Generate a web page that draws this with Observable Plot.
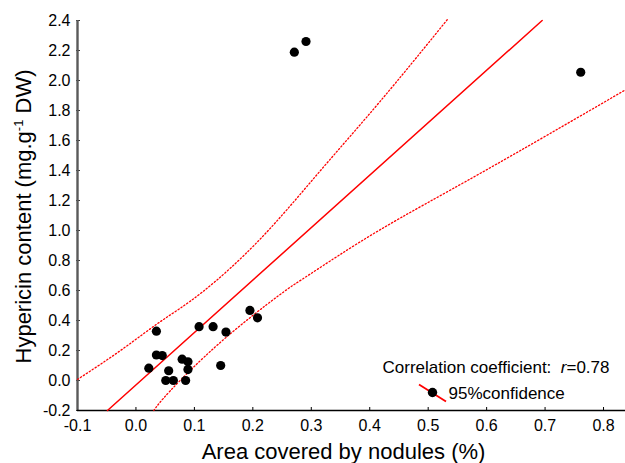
<!DOCTYPE html>
<html>
<head>
<meta charset="utf-8">
<script src="https://cdn.jsdelivr.net/npm/d3@7"></script>
<script src="https://cdn.jsdelivr.net/npm/@observablehq/plot@0.6"></script>
<style>
  html, body { margin: 0; padding: 0; background: #fff; }
</style>
</head>
<body>
<div id="chart"></div>
<script>
// ---- data ----
const xTicks = [-0.1, 0.0, 0.1, 0.2, 0.3, 0.4, 0.5, 0.6, 0.7, 0.8];
const yTicks = [-0.2, 0.0, 0.2, 0.4, 0.6, 0.8, 1.0, 1.2, 1.4, 1.6, 1.8, 2.0, 2.2, 2.4];

const nodulesArea = [0.022, 0.035, 0.035, 0.045, 0.051, 0.056, 0.064, 0.079, 0.085, 0.089,
                     0.089, 0.108, 0.132, 0.145, 0.154, 0.195, 0.208, 0.271, 0.291, 0.761];
const hypericin   = [0.082, 0.329, 0.170, 0.166, 0.000, 0.065, 0.000, 0.142, 0.000, 0.125,
                     0.073, 0.359, 0.359, 0.100, 0.323, 0.467, 0.418, 2.189, 2.260, 2.055];

const fitX = [-0.0487, 0.695];
const fitY = [-0.2, 2.4];

const upperX = [-0.100, -0.0264, 0.042, 0.1134, 0.2131, 0.3158, 0.4185, 0.5326];
const upperY = [0.007, 0.200, 0.393, 0.589, 0.945, 1.400, 1.864, 2.405];

const lowerX = [0.0306, 0.0591, 0.1447, 0.2445, 0.2987, 0.4156, 0.5896, 0.8377];
const lowerY = [-0.200, -0.067, 0.255, 0.567, 0.711, 1.000, 1.382, 1.938];

const xTitle = "Area covered by nodules (%)";
const yTitle = "Hypericin content (mg.g-1 DW)";
const corrText = "Correlation coefficient:  r=0.78";
const legendText = "95%confidence";

// ---- tables ----
const points = nodulesArea.map((x, i) => ({x, y: hypericin[i]}));
const fit = fitX.map((x, i) => ({x, y: fitY[i]}));
const upper = upperX.map((x, i) => ({x, y: upperY[i]}));
const lower = lowerX.map((x, i) => ({x, y: lowerY[i]}));

const RED = "#ff0000";
const fmt = d => d.toFixed(1);
const slash = {draw(ctx) { ctx.moveTo(-13.5, -8.5); ctx.lineTo(13.5, 8.5); }};

const svg = Plot.plot({
  width: 625,
  height: 463,
  marginLeft: 77,
  marginRight: 0,
  marginTop: 20,
  marginBottom: 53,
  style: {fontFamily: "'Liberation Sans', Arial, sans-serif", fontSize: "16px", color: "#000", background: "#fff"},
  x: {domain: [-0.1, 0.8376]},
  y: {domain: [-0.2, 2.4]},
  marks: [
    // axis labels
    Plot.axisX({ticks: xTicks, tickSize: 0, tickPadding: 9, tickFormat: fmt, label: null, fill: "#000"}),
    Plot.axisY({ticks: yTicks, tickSize: 0, tickPadding: 7, tickFormat: fmt, label: null, fill: "#000"}),
    // inward tick marks
    Plot.axisX({ticks: xTicks, tickSize: 3, dy: -3, tickFormat: () => "", label: null, stroke: "#000"}),
    Plot.axisY({ticks: yTicks, tickSize: 4, dx: 3, tickFormat: () => "", label: null, stroke: "#333"}),
    // axis lines
    Plot.ruleX([-0.1], {stroke: "#5a5a5a", strokeWidth: 2.4}),
    Plot.ruleY([-0.2], {stroke: "#000", strokeWidth: 1.6}),
    // regression + confidence bounds
    Plot.line(upper, {x: "x", y: "y", stroke: RED, strokeWidth: 1.3, strokeDasharray: "1.3,2.2", curve: "natural"}),
    Plot.line(lower, {x: "x", y: "y", stroke: RED, strokeWidth: 1.3, strokeDasharray: "1.3,2.2", curve: "natural"}),
    Plot.line(fit, {x: "x", y: "y", stroke: RED, strokeWidth: 1.5}),
    // data
    Plot.dot(points, {x: "x", y: "y", r: 4.6, fill: "#000", stroke: "none"}),
    // titles
    Plot.text([xTitle], {text: d => d, frameAnchor: "bottom", dx: -8, dy: 41, fontSize: 22, lineAnchor: "middle", fill: "#000"}),
    Plot.text([yTitle], {text: d => d, frameAnchor: "left", rotate: -90, dx: -54, dy: 1, fontSize: 22, lineAnchor: "middle", textAnchor: "middle", fill: "#000"}),
    // annotation + legend
    Plot.text([corrText], {text: d => d, frameAnchor: "bottom-right", dx: -243, dy: -42.5, fontSize: 17, textAnchor: "start", lineAnchor: "middle", fill: "#000"}),
    Plot.dot([0], {frameAnchor: "bottom-right", dx: -193, dy: -17.5, symbol: slash, stroke: RED, strokeWidth: 1.8, fill: "none"}),
    Plot.dot([0], {frameAnchor: "bottom-right", dx: -193, dy: -18, r: 4.7, fill: "#000", stroke: "none"}),
    Plot.text([legendText], {text: d => d, frameAnchor: "bottom-right", dx: -177, dy: -17.4, fontSize: 17, textAnchor: "start", lineAnchor: "middle", fill: "#000"})
  ]
});

function findText(content) {
  return d3.select(svg).selectAll("text").filter(function () { return this.textContent === content; });
}
// superscript in the y title
const yt = findText(yTitle);
if (!yt.empty()) {
  yt.text(null);
  yt.append("tspan").text("Hypericin content (mg.g");
  yt.append("tspan").attr("dy", -8).attr("font-size", 13).text("-1");
  yt.append("tspan").attr("dy", 8).text("\u00a0DW)");
}
// italic r in the correlation note
const ct = findText(corrText);
if (!ct.empty()) {
  ct.text(null);
  ct.append("tspan").text("Correlation coefficient:\u00a0\u00a0");
  ct.append("tspan").attr("font-style", "italic").text("r");
  ct.append("tspan").text("=0.78");
}

document.getElementById("chart").appendChild(svg);
</script>
</body>
</html>
